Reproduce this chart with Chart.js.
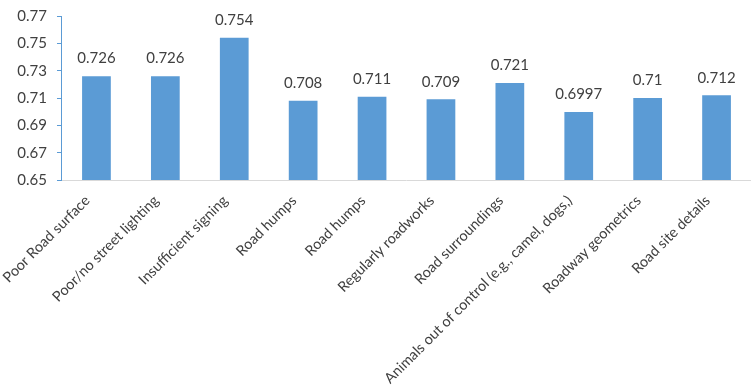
<!DOCTYPE html>
<html>
<head>
<meta charset="UTF-8">
<title>Road factors</title>
<style type="text/css">
body {
	margin: 0;
	background: #fff;
}
#box {
	width: 751px;
	height: 387px;
}
</style>
</head>
<body>
	<div id="box">
		<canvas id="myChart" width="751" height="387"></canvas>
	</div>
<script src="https://cdn.jsdelivr.net/npm/chart.js@4"></script>
<script type="text/javascript">
	// 항목
	var categories = ['Poor Road surface', 'Poor/no street lighting', 'Insufficient signing',
		'Road humps', 'Road humps', 'Regularly roadworks', 'Road surroundings',
		'Animals out of control (e.g., camel, dogs,)', 'Roadway geometrics', 'Road site details'];
	// 값
	var values = [0.726, 0.726, 0.754, 0.708, 0.711, 0.709, 0.721, 0.6997, 0.71, 0.712];
	// 값 라벨 (원본 그대로)
	var valueLabels = ['0.726', '0.726', '0.754', '0.708', '0.711', '0.709', '0.721', '0.6997', '0.71', '0.712'];
	var yTicks = [0.65, 0.67, 0.69, 0.71, 0.73, 0.75, 0.77];

	var textColor = '#404040';
	var fontFamily = 'Lato, "Open Sans", sans-serif';

	// 막대 위 숫자
	var valueLabelPlugin = {
		id: 'valueLabel',
		afterDatasetsDraw: function(chart) {
			var ctx = chart.ctx;
			var meta = chart.getDatasetMeta(0);
			ctx.save();
			ctx.fillStyle = textColor;
			ctx.font = '15px ' + fontFamily;
			ctx.textAlign = 'center';
			ctx.textBaseline = 'bottom';
			meta.data.forEach(function(bar, i) {
				ctx.fillText(valueLabels[i], bar.x, bar.y - 10);
			});
			ctx.restore();
		}
	};

	var ctx = document.getElementById('myChart').getContext('2d');
	var chart = new Chart(ctx, {
		type: 'bar',
		data: {
			labels: categories,
			datasets: [{
				data: values,
				backgroundColor: '#5B9BD5',
				categoryPercentage: 1,
				barPercentage: 0.417
			}]
		},
		options: {
			responsive: false,
			animation: false,
			layout: { padding: 0 },
			plugins: {
				legend: { display: false },
				tooltip: { enabled: false }
			},
			scales: {
				x: {
					afterFit: function(axis) { axis.height = 207; },
					grid: { display: false, drawTicks: false },
					border: { color: '#D9D9D9', width: 1 },
					ticks: {
						color: textColor,
						font: { family: fontFamily, size: 14.5 },
						maxRotation: 45,
						minRotation: 45,
						autoSkip: false,
						padding: 12,
						labelOffset: -9
					}
				},
				y: {
					min: 0.65,
					max: 0.77,
					afterFit: function(axis) { axis.width = 49; },
					afterBuildTicks: function(axis) {
						axis.ticks = yTicks.map(function(v) { return { value: v }; });
					},
					grid: {
						drawOnChartArea: false,
						drawTicks: true,
						tickLength: 5,
						color: '#5B9BD5'
					},
					border: { color: '#5B9BD5', width: 1 },
					ticks: {
						color: textColor,
						font: { family: fontFamily, size: 15, lineHeight: 0.8 },
						padding: 10,
						callback: function(v) { return String(Math.round(v * 100) / 100); }
					}
				}
			}
		},
		plugins: [valueLabelPlugin]
	});
</script>
</body>
</html>
